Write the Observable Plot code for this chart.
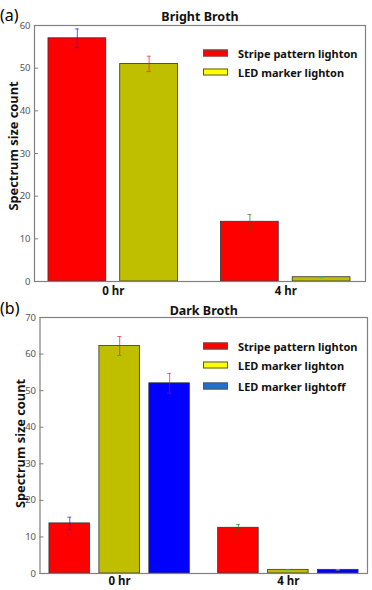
<!DOCTYPE html>
<html>
<head>
<meta charset="utf-8">
<script src="https://cdn.jsdelivr.net/npm/d3@7"></script>
<script src="https://cdn.jsdelivr.net/npm/@observablehq/plot@0.6"></script>
<style>
  body { margin: 0; background: #fff; font-family: "Noto Sans", "Open Sans", sans-serif; }
  .panel { position: relative; width: 372px; }
  .panel svg { display: block; }
  .tag { position: absolute; left: 0; font-size: 16px; color: #000; line-height: 1.1; }
  .legend { position: absolute; left: 203px; top: 0; }
  .legend .row { position: absolute; left: 0; display: flex; align-items: center; white-space: nowrap;
                 font-weight: bold; font-size: 11px; color: #111; transform: translateY(-50%); }
  .legend .sw { width: 23px; height: 5px; border: 1.3px solid #555; margin-right: 10px; }
</style>
</head>
<body>
<div id="chart"></div>
<script>
// Time points on the x axis
const groups = ["0 hr", "4 hr"];

// (a) Bright broth
const brightNames = ["Stripe pattern lighton", "LED marker lighton"];
const brightStripe = [57, 14];
const brightStripeErr = [2.2, 1.7];
const brightLed = [51, 1];
const brightLedErr = [1.8, 0.1];

// (b) Dark broth
const darkNames = ["Stripe pattern lighton", "LED marker lighton", "LED marker lightoff"];
const darkStripe = [13.7, 12.5];
const darkStripeErr = [1.7, 0.9];
const darkLed = [62.2, 1];
const darkLedErr = [2.6, 0.1];
const darkLedOff = [52, 1];
const darkLedOffErr = [2.7, 0.1];

// Bar fills, legend swatches and the classic b-g-r-c-m-y error-bar cycle
const barColors = ["#ff0000", "#bfbf00", "#0000ff"];
const legendColors = ["#ff0000", "#ffff00", "#1f6fd0"];
const errColors = ["#0000ff", "#008000", "#ff0000", "#00bfbf", "#bf00bf", "#bfbf00"];

function panel({tag, title, names, values, errors, ymax, height, margin, w, gap, padL, padR, legendRows, titleDy, labelDx, labelDy, xPad}) {
  const n = values.length;
  const span = n * w + (n - 1) * gap;
  const rows = [];
  values.forEach((vals, s) => vals.forEach((v, g) => {
    const x1 = g + s * (w + gap);
    rows.push({series: s, group: g, value: v, err: errors[s][g], x1, x2: x1 + w, xc: x1 + w / 2,
               ecolor: errColors[(s * groups.length + g) % errColors.length]});
  }));
  const centers = groups.map((_, g) => g + span / 2);
  const cap = 0.012;
  const yticks = d3.range(0, ymax + 1, 10);

  const svg = Plot.plot({
    width: 372,
    height,
    marginTop: margin.top,
    marginRight: margin.right,
    marginBottom: margin.bottom,
    marginLeft: margin.left,
    style: {fontFamily: '"Noto Sans", sans-serif', background: "#fff", overflow: "visible"},
    x: {domain: [-padL, groups.length - 1 + span + padR], axis: null},
    y: {domain: [0, ymax]},
    marks: [
      Plot.rect(rows, {x1: "x1", x2: "x2", y1: 0, y2: "value",
                       fill: d => barColors[d.series], stroke: "#333", strokeWidth: 0.8}),
      Plot.ruleX(rows, {x: "xc", y1: d => d.value - d.err, y2: d => d.value + d.err,
                        stroke: "ecolor", strokeOpacity: 0.55, strokeWidth: 1.2}),
      Plot.ruleY(rows, {x1: d => d.xc - cap, x2: d => d.xc + cap, y: d => d.value + d.err,
                        stroke: "ecolor", strokeOpacity: 0.55}),
      Plot.ruleY(rows, {x1: d => d.xc - cap, x2: d => d.xc + cap, y: d => d.value - d.err,
                        stroke: "ecolor", strokeOpacity: 0.55}),
      Plot.frame({stroke: "#808080", strokeWidth: 1.2}),
      // inward tick marks
      Plot.axisY({ticks: yticks, tickSize: 4, dx: 4, fill: "none", stroke: "#808080", label: null}),
      // tick labels
      Plot.axisY({ticks: yticks, tickSize: 0, tickPadding: 4, stroke: "none", fill: "#555",
                  fontSize: 9.5, label: null}),
      // group labels under each cluster of bars
      Plot.text(groups, {x: (d, i) => centers[i], frameAnchor: "bottom", lineAnchor: "top", dy: xPad,
                         fontSize: 11.5, fontWeight: "bold", fill: "#111"}),
      Plot.text([title], {frameAnchor: "top", lineAnchor: "bottom", dy: titleDy,
                          fontSize: 12.5, fontWeight: "bold", fill: "#111"}),
      Plot.text(["Spectrum size count"], {frameAnchor: "left", textAnchor: "middle", rotate: -90,
                                          dx: labelDx, dy: labelDy,
                                          fontSize: 12.8, fontWeight: "bold", fill: "#111"})
    ]
  });

  const div = document.createElement("div");
  div.className = "panel";
  div.style.height = height + "px";
  div.appendChild(svg);

  const t = document.createElement("div");
  t.className = "tag";
  t.textContent = tag.text;
  t.style.top = tag.top + "px";
  div.appendChild(t);

  const leg = document.createElement("div");
  leg.className = "legend";
  names.forEach((name, i) => {
    const r = document.createElement("div");
    r.className = "row";
    r.style.top = legendRows[i] + "px";
    const sw = document.createElement("div");
    sw.className = "sw";
    sw.style.background = legendColors[i];
    const label = document.createElement("span");
    label.textContent = name;
    r.appendChild(sw);
    r.appendChild(label);
    leg.appendChild(r);
  });
  div.appendChild(leg);
  return div;
}

const root = document.getElementById("chart");

root.appendChild(panel({
  tag: {text: "(a)", top: 7},
  title: "Bright Broth",
  names: brightNames,
  values: [brightStripe, brightLed],
  errors: [brightStripeErr, brightLedErr],
  ymax: 60,
  height: 300,
  margin: {top: 25, right: 7, bottom: 19, left: 34},
  w: 0.335, gap: 0.081, padL: 0.081, padR: 0.087,
  legendRows: [53, 72],
  titleDy: -5, labelDx: -21, labelDy: -7.5, xPad: 5
}));

root.appendChild(panel({
  tag: {text: "(b)", top: 0},
  title: "Dark Broth",
  names: darkNames,
  values: [darkStripe, darkLed, darkLedOff],
  errors: [darkStripeErr, darkLedErr, darkLedOffErr],
  ymax: 70,
  height: 290,
  margin: {top: 17, right: 5, bottom: 17, left: 39.5},
  w: 0.24, gap: 0.056, padL: 0.056, padR: 0.053,
  legendRows: [45.7, 65.3, 85.7],
  titleDy: -3, labelDx: -19, labelDy: -2, xPad: 3
}));
</script>
</body>
</html>
